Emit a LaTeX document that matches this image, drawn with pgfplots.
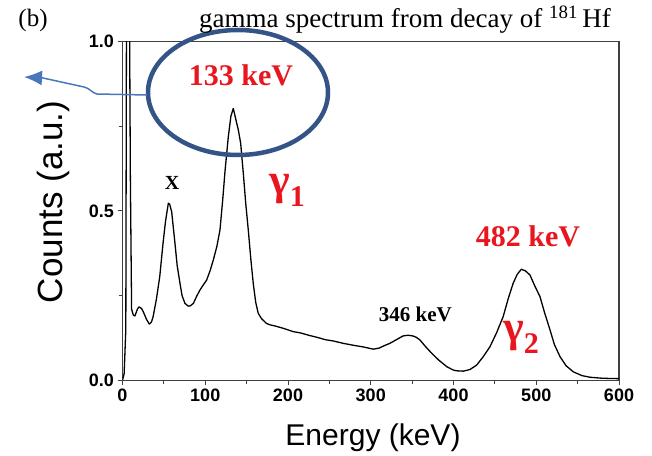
\documentclass[border=0pt]{standalone}
\usepackage{pgfplots}
\pgfplotsset{compat=1.18}
\usepackage{fontspec}
\setmainfont{Liberation Serif}
\newfontfamily\arial{Liberation Sans}
\usetikzlibrary{arrows.meta}
\definecolor{annred}{RGB}{232,22,30}
\definecolor{ellblue}{RGB}{52,84,136}
\definecolor{arrblue}{RGB}{74,118,190}
\begin{document}
\begin{tikzpicture}
\path[use as bounding box] (0pt,0pt) rectangle (652pt,455pt);
\begin{axis}[
  at={(122.5pt,74.7pt)}, anchor=south west,
  scale only axis, width=496.5pt, height=338.6pt,
  xmin=0, xmax=600, ymin=0, ymax=1,
  xtick={0,100,...,600}, minor xtick={50,150,...,550},
  ytick={0,0.5,1}, minor ytick={0.25,0.75},
  tick pos=left, tick align=outside,
  major tick length=5pt, minor tick length=4pt,
  axis line style={black!75, line width=1.3pt},
  every tick/.style={black!75, line width=1pt},
  /pgf/number format/assume math mode=true,
  ticklabel style={font=\arial\bfseries\fontsize{18}{18}\selectfont},
  yticklabel style={/pgf/number format/fixed, /pgf/number format/precision=1, /pgf/number format/fixed zerofill},
  clip mode=individual,
]
\addplot[black, line width=1.3pt, line join=round] coordinates {
(0,0) (2,0.02) (4,0.15) (5,1.3) (8,1.3) (9.5,0.6) (11,0.21) (13,0.193) (15,0.19)
(18,0.21) (20,0.217) (23,0.212) (25,0.203) (29,0.18) (32.4,0.166) (35,0.172) (37,0.188)
(41,0.24) (45,0.306) (49,0.405) (52,0.47) (55.4,0.523) (57,0.52) (59.4,0.498) (63.4,0.405)
(66,0.34) (69.5,0.286) (72,0.25) (75.5,0.227) (79.5,0.219) (82,0.22) (85.6,0.227) (90,0.25)
(93.7,0.267) (98,0.283) (101.7,0.296) (106,0.325) (109.7,0.355) (114,0.395) (117.8,0.444)
(121,0.53) (124,0.621) (127.9,0.72) (131,0.78) (133.9,0.803) (137,0.77) (140,0.739)
(142.8,0.70) (146,0.611) (149,0.52) (152,0.444) (155,0.36) (158,0.286) (161,0.23)
(164,0.198) (168,0.182) (174,0.168) (178,0.164) (185,0.16) (195,0.153) (206,0.144)
(215,0.14) (225,0.133) (235,0.127) (245,0.12) (255,0.116) (267,0.109) (280,0.103)
(290,0.099) (303,0.092) (310,0.095) (317,0.103) (323,0.109) (331,0.12) (339,0.131)
(345,0.133) (351,0.131) (355,0.127) (359.5,0.119) (366,0.1) (373.6,0.08) (382,0.06)
(392,0.04) (400,0.03) (404,0.028) (412,0.027) (420,0.032) (428,0.045) (436,0.07)
(444,0.099) (452,0.14) (460,0.188) (466,0.24) (472,0.286) (477,0.313) (482,0.328)
(487,0.323) (492.4,0.311) (498,0.28) (504.5,0.247) (510,0.2) (516.6,0.149) (522,0.105)
(528.7,0.07) (536,0.043) (544.8,0.025) (555,0.014) (565,0.009) (580,0.006) (597,0.005) (600,0.005)
};
\node[text=annred, font=\bfseries\fontsize{30}{30}\selectfont] at (axis cs:143.2,0.902) {133 keV};
\node[font=\bfseries\fontsize{20}{20}\selectfont] at (axis cs:59.8,0.583) {X};
\node[text=annred, font=\bfseries\fontsize{44}{44}\selectfont] at (axis cs:198.8,0.56) {γ\raisebox{-12pt}{\fontsize{30}{30}\selectfont 1}};
\node[text=annred, font=\bfseries\fontsize{30}{30}\selectfont] at (axis cs:490,0.426) {482 keV};
\node[font=\bfseries\fontsize{21}{21}\selectfont] at (axis cs:354,0.196) {346 keV};
\node[text=annred, font=\bfseries\fontsize{44}{44}\selectfont] at (axis cs:481.6,0.126) {γ\raisebox{-12pt}{\fontsize{30}{30}\selectfont 2}};
\end{axis}
\draw[ellblue, line width=4.5pt] (238pt,362.5pt) ellipse [x radius=90pt, y radius=62.5pt];
\draw[arrblue, line width=1.5pt, -{Latex[length=18pt,width=15pt]}]
  (147pt,360pt) -- (97pt,361pt) .. controls (92pt,362pt) and (91pt,366pt) .. (84pt,368pt) -- (43pt,377pt) -- (24pt,378pt);
\node[font=\fontsize{27}{27}\selectfont, anchor=base] at (405pt,427pt) {gamma spectrum from decay of \textsuperscript{181}\,Hf};
\node[font=\fontsize{25}{25}\selectfont] at (33pt,435pt) {(b)};
\node[font=\arial\fontsize{35}{35}\selectfont, rotate=90] at (53pt,253pt) {Counts (a.u.)};
\node[font=\arial\fontsize{30}{30}\selectfont, anchor=base] at (373pt,10pt) {Energy (keV)};
\end{tikzpicture}
\end{document}
